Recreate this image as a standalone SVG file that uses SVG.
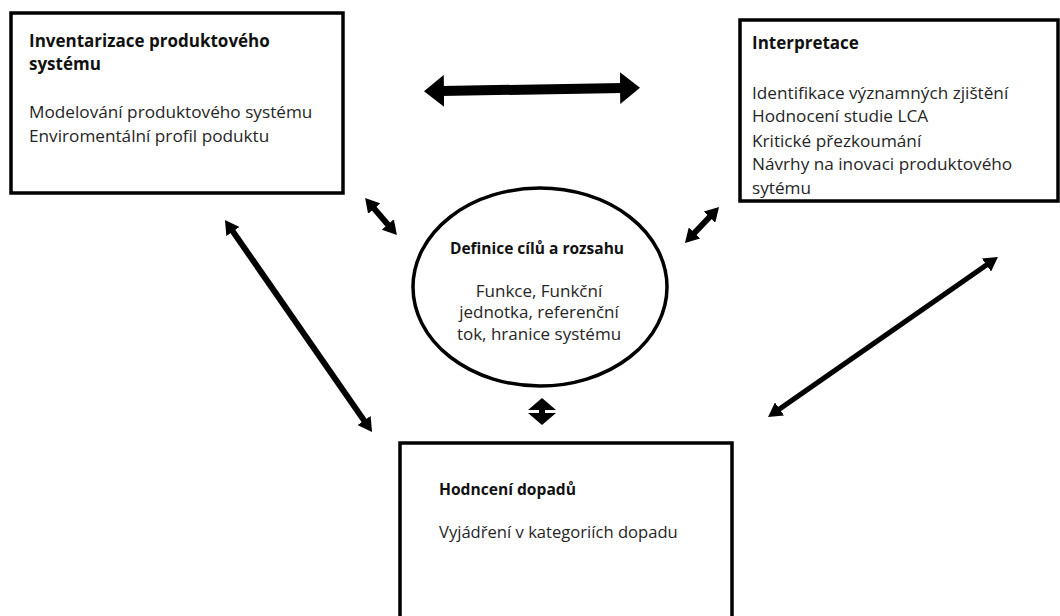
<svg xmlns="http://www.w3.org/2000/svg" width="1060" height="616" viewBox="0 0 1060 616">
<style>
.box{fill:#fff;stroke:#000;stroke-width:3.5}
.t{font-family:"Open Sans","Noto Sans",sans-serif;font-size:17.2px;fill:#262626}
.b{font-family:"Open Sans","Noto Sans",sans-serif;font-size:17px;font-weight:bold;fill:#111}
.c{stroke:#000;fill:none}
</style>
<defs>
<marker id="big" markerUnits="userSpaceOnUse" viewBox="0 0 20 32" markerWidth="20" markerHeight="32" refX="3" refY="16" orient="auto-start-reverse"><path d="M0,0 L20,16 L0,32 Z" fill="#000"/></marker>
<marker id="sm" markerUnits="userSpaceOnUse" viewBox="0 0 14 16" markerWidth="14" markerHeight="16" refX="2" refY="8" orient="auto-start-reverse"><path d="M0,0 L14,8 L0,16 Z" fill="#000"/></marker>
<marker id="wide" markerUnits="userSpaceOnUse" viewBox="0 0 12 28" markerWidth="12" markerHeight="28" refX="2" refY="14" orient="auto-start-reverse"><path d="M0,0 L12,14 L0,28 Z" fill="#000"/></marker>
</defs>
<rect width="1060" height="616" fill="#fff"/>
<g id="connectors">
<line class="c" x1="441" y1="91" x2="623" y2="88" stroke-width="10" marker-start="url(#big)" marker-end="url(#big)"/>
<line class="c" x1="231.8" y1="229.9" x2="365.2" y2="422.1" stroke-width="6" marker-start="url(#sm)" marker-end="url(#sm)"/>
<line class="c" x1="372.9" y1="207.1" x2="389.1" y2="226" stroke-width="6" marker-start="url(#sm)" marker-end="url(#sm)"/>
<line class="c" x1="693.2" y1="234.3" x2="710.8" y2="215.7" stroke-width="6" marker-start="url(#sm)" marker-end="url(#sm)"/>
<line class="c" x1="777.9" y1="410.1" x2="988.1" y2="263.9" stroke-width="5" marker-start="url(#sm)" marker-end="url(#sm)"/>
<line class="c" x1="542" y1="408" x2="542" y2="415" stroke-width="6" marker-start="url(#wide)" marker-end="url(#wide)"/>
</g>
<g id="inventarizace">
<rect class="box" x="11" y="13" width="332" height="180"/>
<text class="b" x="29" y="47">Inventarizace produktového</text>
<text class="b" x="29" y="70">systému</text>
<text class="t" x="29" y="118">Modelování produktového systému</text>
<text class="t" x="29" y="142">Enviromentální profil poduktu</text>
</g>
<g id="interpretace">
<rect class="box" x="740" y="20" width="318" height="181"/>
<text class="b" x="752" y="49">Interpretace</text>
<text class="t" x="752" y="99">Identifikace významných zjištění</text>
<text class="t" x="752" y="122">Hodnocení studie LCA</text>
<text class="t" x="752" y="147">Kritické přezkoumání</text>
<text class="t" x="752" y="170">Návrhy na inovaci produktového</text>
<text class="t" x="752" y="194">sytému</text>
</g>
<g id="definice">
<ellipse class="box" cx="540" cy="287" rx="127" ry="99" stroke-width="3"/>
<text class="b" x="537" y="254" text-anchor="middle" style="font-size:15.5px">Definice cílů a rozsahu</text>
<text class="t" x="539" y="297" text-anchor="middle" style="font-size:17px">Funkce, Funkční</text>
<text class="t" x="539" y="318" text-anchor="middle" style="font-size:17px">jednotka, referenční</text>
<text class="t" x="539" y="340" text-anchor="middle" style="font-size:17px">tok, hranice systému</text>
</g>
<g id="hodnoceni">
<rect class="box" x="400" y="443" width="332" height="180" stroke-width="3"/>
<text class="b" x="439" y="495" style="font-size:15.6px">Hodncení dopadů</text>
<text class="t" x="439" y="538" style="font-size:16.6px">Vyjádření v kategoriích dopadu</text>
</g>
</svg>
